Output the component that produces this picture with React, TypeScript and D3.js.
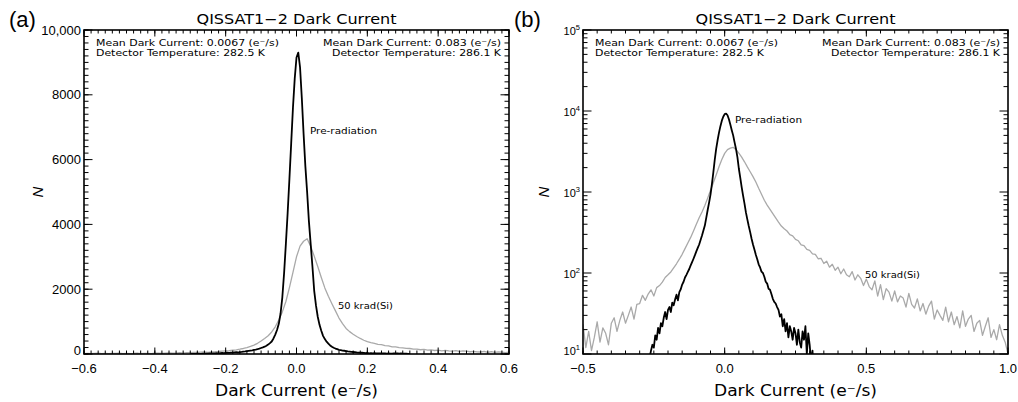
import React from "react";
import * as d3 from "d3";

// ---------- data (histograms) ----------
const preRadStart = -0.3;
const preRadStep = 0.005;
const preRadiation = [
  2, 1, 3, 2, 9, 2, 5, 9, 11, 13,
  12, 17, 15, 21, 18, 24, 22, 28, 33, 27,
  35, 38, 33, 43, 40, 47, 54, 46, 58, 63,
  72, 78, 88, 95, 103, 112, 124, 136, 150, 166,
  185, 204, 225, 255, 290, 335, 385, 480, 600, 740,
  930, 1250, 1750, 2500, 3400, 4350, 5400, 6500, 7600, 8500,
  9150, 9300, 8850, 7900, 6800, 5800, 5000, 4100, 3400, 2700,
  1950, 1500, 1150, 900, 720, 560, 460, 380, 320, 265,
  225, 195, 168, 148, 128, 117, 104, 100, 90, 78,
  74, 64, 62, 55, 48, 44, 42, 38, 35, 29,
  31, 22, 27, 19, 24, 16, 22, 19, 15, 21,
  18, 13, 20, 14, 12, 19, 15, 22, 10, 18,
  13, 8, 11, 5, 3,
];

const krad50Start = -0.6;
const krad50Step = 0.01;
const krad50 = [
  14, 22, 11, 18, 24, 12, 16, 10, 20, 15,
  23, 12, 19, 11, 16, 25, 14, 21, 18, 13,
  24, 28, 19, 26, 33, 24, 30, 38, 27, 41,
  42, 53, 46, 55, 62, 52, 66, 70, 77, 88,
  95, 103, 116, 130, 148, 170, 200, 235, 275, 330,
  400, 480, 565, 680, 840, 1050, 1300, 1620, 2050, 2520,
  3000, 3330, 3480, 3560, 3330, 3020, 2700, 2360, 2040, 1780,
  1550, 1330, 1110, 940, 790, 690, 610, 540, 480, 425,
  380, 352, 330, 298, 288, 260, 250, 222, 218, 196,
  190, 172, 170, 150, 152, 131, 140, 118, 128, 108,
  118, 98, 112, 95, 90, 104, 82, 95, 86, 70,
  84, 68, 62, 80, 52, 72, 47, 64, 58, 45,
  60, 44, 52, 49, 38, 56, 41, 37, 48, 34,
  42, 31, 39, 45, 27, 35, 30, 26, 38, 25,
  33, 23, 29, 21, 34, 22, 27, 30, 19, 24,
  26, 17, 22, 28, 16, 20, 15, 23, 17, 14,
  10,
];

// ---------- axes / labels ----------
const xTicksA = [-0.6, -0.4, -0.2, 0, 0.2, 0.4, 0.6];
const xTickLabelsA = ["\u22120.6", "\u22120.4", "\u22120.2", "0.0", "0.2", "0.4", "0.6"];
const xMinorStepA = 0.02;
const yTicksA = [0, 2000, 4000, 6000, 8000, 10000];
const yTickLabelsA = ["0", "2000", "4000", "6000", "8000", "10,000"];
const yMinorStepA = 200;

const xTicksB = [-0.5, 0, 0.5, 1.0];
const xTickLabelsB = ["\u22120.5", "0.0", "0.5", "1.0"];
const xMinorStepB = 0.05;
const yTicksB = [10, 100, 1000, 10000, 100000];
const yTickExpB = ["1", "2", "3", "4", "5"];

const titleText = "QISSAT1\u22122 Dark Current";
const xAxisTitle = "Dark Current (e\u207B/s)";
const yAxisTitle = "N";
const annotLeft = ["Mean Dark Current: 0.0067 (e\u207B/s)", "Detector Temperature: 282.5 K"];
const annotRight = ["Mean Dark Current: 0.083 (e\u207B/s)", "Detector Temperature: 286.1 K"];
const curveLabels = ["Pre-radiation", "50 krad(Si)"];
const panelLabels = ["(a)", "(b)"];

// ---------- layout ----------
const W = 1018;
const H = 402;
const TOP = 30;
const BOTTOM = 354;
const A_L = 84, A_R = 509;
const B_L = 583, B_R = 1008;

const FONT_TXT = "'DejaVu Sans', sans-serif";
const FONT_TICK = "'Liberation Sans', Arial, sans-serif";
const GRAY = "#a9a9a9";

const preRadPts: [number, number][] = preRadiation.map((v, i) => [preRadStart + i * preRadStep, v]);
const kradPts: [number, number][] = krad50.map((v, i) => [krad50Start + i * krad50Step, v]);

function range(a: number, b: number, s: number) {
  const out: number[] = [];
  const n = Math.round((b - a) / s);
  for (let i = 0; i <= n; i++) out.push(a + i * s);
  return out;
}

type PanelProps = {
  id: string;
  x: any;
  y: any;
  left: number;
  right: number;
  xMajor: number[];
  xMinor: number[];
  yMajor: number[];
  yMinor: number[];
  xLabels: string[];
  yLabels: React.ReactNode[];
  log: boolean;
  labelPos: { pre: [number, number]; krad: [number, number] };
  panelLabel: string;
  panelLabelX: number;
  nOffset: number;
};

function Panel(p: PanelProps) {
  const { x, y, left, right } = p;
  const cx = (left + right) / 2;
  const line = d3
    .line<[number, number]>()
    .x((d) => x(d[0]))
    .y((d) => y(p.log ? Math.max(d[1], 0.5) : d[1]));
  const xMajLen = 6.5, xMinLen = 3.5, yMajLen = 8.5, yMinLen = 4.5;
  return (
    <g>
      <defs>
        <clipPath id={p.id}>
          <rect x={left} y={TOP} width={right - left} height={BOTTOM - TOP} />
        </clipPath>
      </defs>
      <g clipPath={`url(#${p.id})`}>
        <path d={line(kradPts) || ""} fill="none" stroke={GRAY} strokeWidth={1.3} strokeLinejoin="round" />
        <path d={line(preRadPts) || ""} fill="none" stroke="#000" strokeWidth={1.8} strokeLinejoin="round" />
      </g>
      {/* ticks */}
      <g stroke="#000" strokeWidth={1}>
        {p.xMinor.map((t, i) => (
          <g key={"xm" + i}>
            <line x1={x(t)} x2={x(t)} y1={BOTTOM} y2={BOTTOM - xMinLen} />
            <line x1={x(t)} x2={x(t)} y1={TOP} y2={TOP + xMinLen} />
          </g>
        ))}
        {p.xMajor.map((t, i) => (
          <g key={"xM" + i}>
            <line x1={x(t)} x2={x(t)} y1={BOTTOM} y2={BOTTOM - xMajLen} />
            <line x1={x(t)} x2={x(t)} y1={TOP} y2={TOP + xMajLen} />
          </g>
        ))}
        {p.yMinor.map((t, i) => (
          <g key={"ym" + i}>
            <line x1={left} x2={left + yMinLen} y1={y(t)} y2={y(t)} />
            <line x1={right} x2={right - yMinLen} y1={y(t)} y2={y(t)} />
          </g>
        ))}
        {p.yMajor.map((t, i) => (
          <g key={"yM" + i}>
            <line x1={left} x2={left + yMajLen} y1={y(t)} y2={y(t)} />
            <line x1={right} x2={right - yMajLen} y1={y(t)} y2={y(t)} />
          </g>
        ))}
      </g>
      <rect x={left} y={TOP} width={right - left} height={BOTTOM - TOP} fill="none" stroke="#000" strokeWidth={1.6} />
      {/* tick labels */}
      {p.xMajor.map((t, i) => (
        <text key={"xl" + i} x={x(t)} y={373} textAnchor="middle" fontFamily={FONT_TICK} fontSize={13} fill="#000">
          {p.xLabels[i]}
        </text>
      ))}
      {p.yMajor.map((t, i) => (
        <text key={"yl" + i} x={left - 3} y={y(t) + (i === 0 ? 1 : 4.5)} textAnchor="end" fontFamily={FONT_TICK} fontSize={p.log ? 11 : 13} fill="#000">
          {p.yLabels[i]}
        </text>
      ))}
      {/* titles */}
      <text x={cx} y={24} textAnchor="middle" fontFamily={FONT_TXT} fontSize={14} textLength={200} lengthAdjust="spacingAndGlyphs" fill="#000">
        {titleText}
      </text>
      <text x={cx} y={396} textAnchor="middle" fontFamily={FONT_TXT} fontSize={16} textLength={163} lengthAdjust="spacingAndGlyphs" fill="#000">
        {xAxisTitle}
      </text>
      <text transform={`translate(${left - p.nOffset},192) rotate(-90)`} textAnchor="middle" dominantBaseline="central" fontFamily={FONT_TICK} fontStyle="italic" fontSize={15} fill="#000">
        {yAxisTitle}
      </text>
      <text x={p.panelLabelX} y={26.5} fontFamily={FONT_TICK} fontSize={22} fill="#000">
        {p.panelLabel}
      </text>
      {/* annotations */}
      <g fontFamily={FONT_TXT} fontSize={8.6} fill="#000">
        <text x={left + 12} y={46.3} textLength={183} lengthAdjust="spacingAndGlyphs">{annotLeft[0]}</text>
        <text x={left + 12} y={56.3} textLength={169} lengthAdjust="spacingAndGlyphs">{annotLeft[1]}</text>
        <text x={right - 8} y={46.3} textAnchor="end" textLength={178} lengthAdjust="spacingAndGlyphs">{annotRight[0]}</text>
        <text x={right - 8} y={56.3} textAnchor="end" textLength={169} lengthAdjust="spacingAndGlyphs">{annotRight[1]}</text>
      </g>
      <g fontFamily={FONT_TXT} fontSize={9.5} fill="#000">
        <text x={p.labelPos.pre[0]} y={p.labelPos.pre[1]} textLength={67} lengthAdjust="spacingAndGlyphs">{curveLabels[0]}</text>
        <text x={p.labelPos.krad[0]} y={p.labelPos.krad[1]} textLength={55} lengthAdjust="spacingAndGlyphs">{curveLabels[1]}</text>
      </g>
    </g>
  );
}

export default function App() {
  const xA = d3.scaleLinear().domain([-0.6, 0.6]).range([A_L, A_R]);
  const yA = d3.scaleLinear().domain([0, 10000]).range([BOTTOM, TOP]);
  const xB = d3.scaleLinear().domain([-0.5, 1.0]).range([B_L, B_R]);
  const yB = d3.scaleLog().domain([10, 100000]).range([BOTTOM, TOP]);

  const yMinorB: number[] = [];
  for (let e = 1; e < 5; e++) for (let m = 2; m <= 9; m++) yMinorB.push(m * Math.pow(10, e));

  const yLabelsB = yTicksB.map((_, i) => (
    <>
      10<tspan dy={-5} fontSize={7.5}>{yTickExpB[i]}</tspan>
    </>
  ));

  return (
    <div style={{ position: "fixed", left: 0, top: 0, width: W, height: H, background: "#fff" }}>
      <svg width={W} height={H} viewBox={`0 0 ${W} ${H}`} style={{ display: "block" }}>
        <rect x={0} y={0} width={W} height={H} fill="#fff" />
        <Panel
          id="clipA"
          x={xA}
          y={yA}
          left={A_L}
          right={A_R}
          xMajor={xTicksA}
          xMinor={range(-0.6, 0.6, xMinorStepA)}
          yMajor={yTicksA}
          yMinor={range(0, 10000, yMinorStepA)}
          xLabels={xTickLabelsA}
          yLabels={yTickLabelsA}
          log={false}
          labelPos={{ pre: [310, 134], krad: [338, 309] }}
          panelLabel={panelLabels[0]}
          panelLabelX={9}
          nOffset={47}
        />
        <Panel
          id="clipB"
          x={xB}
          y={yB}
          left={B_L}
          right={B_R}
          xMajor={xTicksB}
          xMinor={range(-0.5, 1.0, xMinorStepB)}
          yMajor={yTicksB}
          yMinor={yMinorB}
          xLabels={xTickLabelsB}
          yLabels={yLabelsB}
          log={true}
          labelPos={{ pre: [735, 123], krad: [865, 278] }}
          panelLabel={panelLabels[1]}
          panelLabelX={514}
          nOffset={40}
        />
      </svg>
    </div>
  );
}
